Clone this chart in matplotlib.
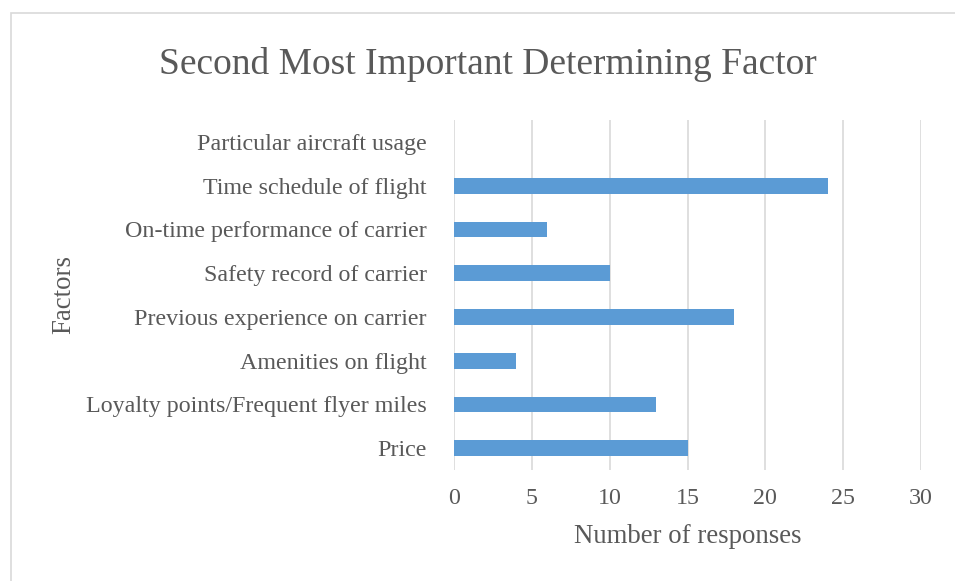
import matplotlib.pyplot as plt
from matplotlib.patches import Rectangle

factors = ["Price", "Loyalty points/Frequent flyer miles", "Amenities on flight",
           "Previous experience on carrier", "Safety record of carrier",
           "On-time performance of carrier", "Time schedule of flight",
           "Particular aircraft usage"]
responses = [15, 13, 4, 18, 10, 6, 24, 0]
xticks = [0, 5, 10, 15, 20, 25, 30]

txt = "#595959"
plt.rcParams['font.family'] = ['Liberation Serif', 'DejaVu Serif']

fig = plt.figure(figsize=(9.55, 5.81), dpi=100)
fig.patches.append(Rectangle((11 / 955, -0.1), 1.1, 1 - 13 / 581 + 0.1,
                             transform=fig.transFigure, fill=False,
                             edgecolor="#D9D9D9", linewidth=1.2))

ax = fig.add_axes([454 / 955, 1 - 470 / 581, 467 / 955, 350 / 581])
ax.barh(range(len(factors)), responses, height=0.36, color="#5B9BD5",
        linewidth=0, zorder=3)
ax.set_xlim(0, 30)
ax.set_ylim(-0.5, len(factors) - 0.5)
ax.set_xticks(xticks)
ax.set_yticks(range(len(factors)))
ax.set_yticklabels(factors)
ax.grid(axis="x", color="#D9D9D9", linewidth=1.2, zorder=0)
for s in ax.spines.values():
    s.set_visible(False)
ax.tick_params(length=0, labelsize=17.3, colors=txt)
ax.tick_params(axis="y", pad=19.5)
ax.tick_params(axis="x", pad=13)

ax.set_xlabel("Number of responses", fontsize=19.3, color=txt, labelpad=11)
ax.set_ylabel("Factors", fontsize=19.3, color=txt)
ax.yaxis.set_label_coords((76 - 454) / 467, 0.5)
fig.text(488 / 955, 1 - 64 / 581, "Second Most Important Determining Factor",
         ha="center", va="center", fontsize=27, color=txt)

fig.savefig("out.png", dpi=100)
